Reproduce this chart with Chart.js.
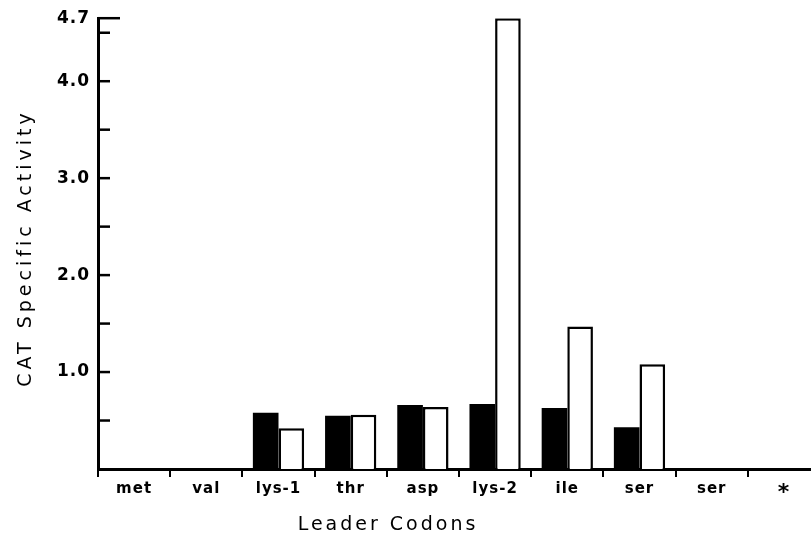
<!DOCTYPE html>
<html>
<head>
<meta charset="utf-8">
<script src="https://cdn.jsdelivr.net/npm/chart.js@4/dist/chart.umd.min.js"></script>
<style>
  html, body { margin: 0; padding: 0; background: #fff; overflow: hidden; }
</style>
</head>
<body>
<canvas id="grafico" width="830" height="541"></canvas>
<script>
// Códons do líder (eixo X)
const codons = ['met', 'val', 'lys-1', 'thr', 'asp', 'lys-2', 'ile', 'ser', 'ser', '*'];

// Atividade específica de CAT (barras pretas e brancas)
const barrasPretas = [null, null, 0.58, 0.55, 0.66, 0.67, 0.63, 0.43, null, null];
const barrasBrancas = [null, null, 0.42, 0.56, 0.64, 4.65, 1.47, 1.08, null, null];

// Marcas do eixo Y (a de cima é rotulada 4.7 na figura)
const yMarcas = [0.5, 1, 1.5, 2, 2.5, 3, 3.5, 4, 4.5, 4.65];
const yRotulos = ['', '1.0', '', '2.0', '', '3.0', '', '4.0', '', '4.7'];

const tituloX = 'Leader Codons';
const tituloY = 'CAT Specific Activity';

// Marcas internas do eixo Y e títulos dos eixos
const extras = {
    id: 'extras',
    beforeDraw(chart) {
        chart.ctx.letterSpacing = '1px';
    },
    afterDraw(chart) {
        const ctx = chart.ctx;
        const y = chart.scales.y;
        const esq = chart.chartArea.left;
        ctx.save();
        ctx.strokeStyle = '#000';
        ctx.lineWidth = 2.5;
        yMarcas.forEach((v, i) => {
            const py = y.getPixelForValue(v);
            const len = i === yMarcas.length - 1 ? 22 : 12;
            ctx.beginPath();
            ctx.moveTo(esq, py);
            ctx.lineTo(esq + len, py);
            ctx.stroke();
        });
        ctx.fillStyle = '#000';
        ctx.font = '19px "DejaVu Sans"';
        ctx.textAlign = 'center';
        ctx.textBaseline = 'middle';
        ctx.letterSpacing = '3px';
        ctx.fillText(tituloX, 388, 525);
        ctx.letterSpacing = '4px';
        ctx.translate(26, 248);
        ctx.rotate(-Math.PI / 2);
        ctx.fillText(tituloY, 0, 0);
        ctx.restore();
    }
};

const ctx = document.getElementById('grafico').getContext('2d');

const grafico = new Chart(ctx, {
    type: 'bar',
    data: {
        labels: codons,
        datasets: [
            {
                data: barrasPretas,
                backgroundColor: '#000',
                borderWidth: 0,
                categoryPercentage: 0.71,
                barPercentage: 1.0
            },
            {
                data: barrasBrancas,
                backgroundColor: '#fff',
                borderColor: '#000',
                borderWidth: 2.5,
                borderSkipped: 'bottom',
                categoryPercentage: 0.71,
                barPercentage: 1.0
            }
        ]
    },
    options: {
        responsive: false,
        animation: false,
        layout: { padding: { top: 18, right: 10, left: 0, bottom: 0 } },
        plugins: {
            legend: { display: false },
            tooltip: { enabled: false }
        },
        scales: {
            x: {
                offset: true,
                grid: {
                    offset: true,
                    drawOnChartArea: false,
                    drawTicks: true,
                    tickLength: 8,
                    color: '#000',
                    lineWidth: 2
                },
                border: { color: '#000', width: 3 },
                ticks: {
                    color: '#000',
                    font: c => ({
                        family: 'DejaVu Sans',
                        size: c.tick && c.tick.label === '*' ? 22 : 15,
                        weight: 'bold'
                    }),
                    padding: 3,
                    maxRotation: 0,
                    autoSkip: false
                },
                afterFit: s => { s.height = 72; }
            },
            y: {
                min: 0,
                max: 4.65,
                afterBuildTicks: s => { s.ticks = yMarcas.map(v => ({ value: v })); },
                grid: { drawOnChartArea: false, drawTicks: false },
                border: { color: '#000', width: 3 },
                ticks: {
                    color: '#000',
                    font: { family: 'DejaVu Sans', size: 17, weight: 'bold' },
                    padding: 8,
                    callback: (v, i) => yRotulos[i]
                },
                afterFit: s => { s.width = 98; }
            }
        }
    },
    plugins: [extras]
});
</script>
</body>
</html>
